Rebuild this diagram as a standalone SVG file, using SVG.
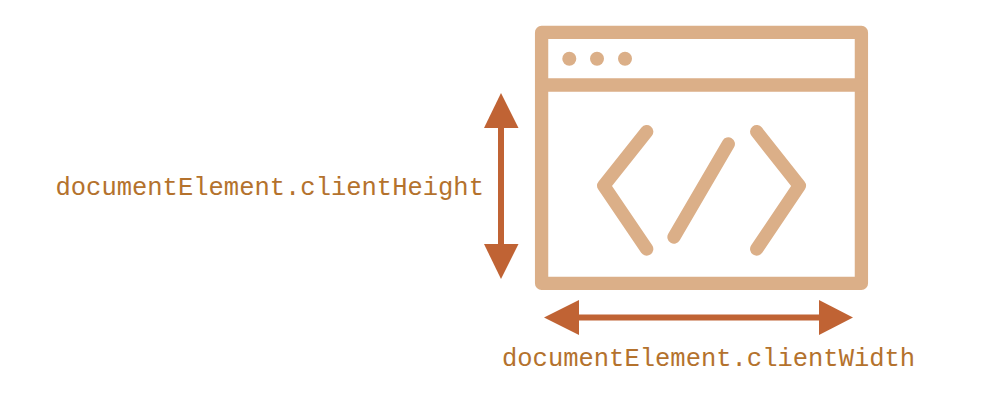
<svg xmlns="http://www.w3.org/2000/svg" width="1007" height="404" viewBox="0 0 1007 404">
<style>
.ic{fill:none;stroke:#dbaf88;stroke-width:13.300;stroke-linecap:round;stroke-linejoin:round}
.dot{fill:#dbaf88}
.ar{fill:#c06334}
.ln{stroke:#c06334;stroke-width:6;fill:none}
text{font-family:"Liberation Mono",monospace;font-size:25.500px;fill:#b4722d}
</style>
<rect width="1007" height="404" fill="#fff"/>
<g id="window">
<rect class="ic" x="541.600" y="32.400" width="319.800" height="251"/>
<path class="ic" d="M541.600 85H861.400"/>
<circle class="dot" cx="569.300" cy="58.700" r="7"/><circle class="dot" cx="597" cy="58.700" r="7"/><circle class="dot" cx="625" cy="58.700" r="7"/>
<path class="ic" d="M646.700 131.700L603.800 185.700L646.700 249M728.300 144L674 237M756.700 131.700L799.300 185.700L756.700 249"/>
</g>
<g id="connectors">
<path class="ln" d="M501 125V246"/>
<polygon class="ar" points="501,93 518.500,128 484,128"/><polygon class="ar" points="501,279 484,244 518.500,244"/>
<path class="ln" d="M575 317.500H822"/>
<polygon class="ar" points="544,317.500 579,300 579,335"/><polygon class="ar" points="853,317.500 819,300 819,335"/>
</g>
<g id="label-height"><text x="55.500" y="195">documentElement.clientHeight</text></g>
<g id="label-width"><text x="502" y="366">documentElement.clientWidth</text></g>
</svg>
